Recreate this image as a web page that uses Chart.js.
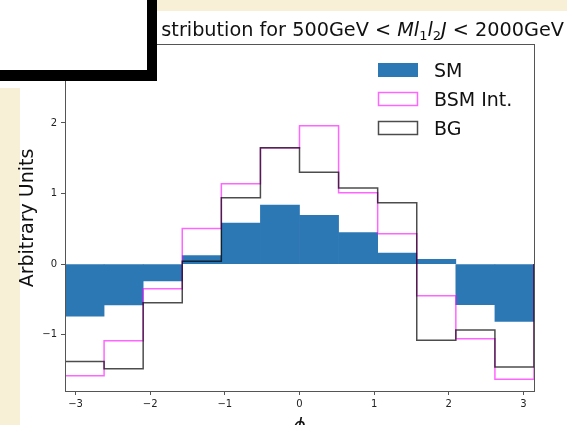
<!DOCTYPE html>
<html>
<head>
<meta charset="utf-8">
<title>phi distribution</title>
<script src="https://cdn.jsdelivr.net/npm/chart.js@4.4.1/dist/chart.umd.min.js"></script>
<style>
  html, body { margin: 0; padding: 0; }
  body { width: 567px; height: 425px; position: relative; overflow: hidden; background: #fff; }
  .strip-top { position: absolute; left: 0; top: 0; width: 567px; height: 11px; background: #f8f0d6; }
  .strip-left { position: absolute; left: 0; top: 88px; width: 20px; height: 337px; background: #f8f0d6; }
  #chart { position: absolute; left: 0; top: 0; }
  .box { position: absolute; left: 0; top: 0; width: 147px; height: 70px; background: #fff;
         border-right: 10px solid #000; border-bottom: 11px solid #000; z-index: 2; }
</style>
</head>
<body>
<div class="strip-top"></div>
<div class="strip-left"></div>
<canvas id="chart" width="567" height="425"></canvas>
<div class="box"></div>
<script>
// phi bins: 12 equal bins from -pi to pi
const binEdges = [-3.1416, -2.618, -2.0944, -1.5708, -1.0472, -0.5236, 0, 0.5236, 1.0472, 1.5708, 2.0944, 2.618, 3.1416];

// histogram contents per bin
const smValues  = [-0.74, -0.58, -0.24, 0.12, 0.58, 0.835, 0.69, 0.445, 0.155, 0.066, -0.575, -0.815];
const bsmValues = [-1.584, -1.086, -0.351, 0.505, 1.14, 1.645, 1.96, 1.01, 0.43, -0.45, -1.06, -1.635];
const bgValues  = [-1.38, -1.485, -0.55, 0.04, 0.94, 1.65, 1.30, 1.077, 0.87, -1.08, -0.935, -1.46];

const xTickValues = [-3, -2, -1, 0, 1, 2, 3];
const yTickValues = [-1, 0, 1, 2];

const legendItems = [
  { label: 'SM', fill: '#2b78b4', stroke: null },
  { label: 'BSM Int.', fill: null, stroke: 'rgba(255, 0, 255, 0.6)' },
  { label: 'BG', fill: null, stroke: 'rgba(0, 0, 0, 0.7)' }
];

const FONT = 'DejaVu Sans';

// bar centres for the filled histogram
function barPoints(values) {
  return values.map((v, i) => ({ x: (binEdges[i] + binEdges[i + 1]) / 2, y: v }));
}

// outline of a step histogram, closed down to zero at both ends
function stepPoints(values) {
  const pts = [{ x: binEdges[0], y: 0 }];
  values.forEach((v, i) => pts.push({ x: binEdges[i], y: v }));
  const last = values[values.length - 1];
  pts.push({ x: binEdges[binEdges.length - 1], y: last });
  pts.push({ x: binEdges[binEdges.length - 1], y: 0 });
  return pts;
}

function minusSign(v) {
  return v < 0 ? '\u2212' + Math.abs(v) : String(v);
}

// title, legend, axis labels and the axes frame
const figureText = {
  id: 'figureText',
  afterDatasetsDraw(chart) {
    const ctx = chart.ctx;
    const a = chart.chartArea;
    ctx.save();
    ctx.strokeStyle = '#555';
    ctx.lineWidth = 1;
    ctx.strokeRect(Math.round(a.left) + 0.5, Math.round(a.top) + 0.5,
      Math.round(a.right - a.left), Math.round(a.bottom - a.top));
    ctx.restore();
  },
  afterDraw(chart) {
    const ctx = chart.ctx;
    ctx.save();
    ctx.fillStyle = '#111';

    // title, right end fixed
    const size = 19.25;
    const parts = [
      { t: 'stribution for 500GeV < ', f: `${size}px "${FONT}"`, dy: 0 },
      { t: 'Ml', f: `italic ${size}px "${FONT}"`, dy: 0 },
      { t: '1', f: `${Math.round(size * 0.7)}px "${FONT}"`, dy: size * 0.22 },
      { t: 'l', f: `italic ${size}px "${FONT}"`, dy: 0 },
      { t: '2', f: `${Math.round(size * 0.7)}px "${FONT}"`, dy: size * 0.22 },
      { t: 'J', f: `italic ${size}px "${FONT}"`, dy: 0 },
      { t: ' < 2000GeV', f: `${size}px "${FONT}"`, dy: 0 }
    ];
    let total = 0;
    parts.forEach(p => { ctx.font = p.f; p.w = ctx.measureText(p.t).width; total += p.w; });
    let x = 564 - total;
    const base = 36;
    ctx.textBaseline = 'alphabetic';
    ctx.textAlign = 'left';
    parts.forEach(p => { ctx.font = p.f; ctx.fillText(p.t, x, base + p.dy); x += p.w; });

    // legend
    ctx.font = `19px "${FONT}"`;
    legendItems.forEach((item, i) => {
      const cy = 70 + i * 29;
      if (item.fill) {
        ctx.fillStyle = item.fill;
        ctx.fillRect(378, cy - 7, 40, 14);
      } else {
        ctx.strokeStyle = item.stroke;
        ctx.lineWidth = 1.5;
        ctx.strokeRect(378.5, cy - 6.5, 39, 13);
      }
      ctx.fillStyle = '#111';
      ctx.fillText(item.label, 434, cy + 7);
    });

    // y label
    ctx.save();
    ctx.translate(28, 218);
    ctx.rotate(-Math.PI / 2);
    ctx.textAlign = 'center';
    ctx.textBaseline = 'middle';
    ctx.fillText('Arbitrary Units', 0, 0);
    ctx.restore();

    // x label
    ctx.font = `italic 19px "${FONT}"`;
    ctx.textAlign = 'center';
    ctx.fillText('\u03d5', 299.5, 432);
    ctx.restore();
  }
};

Chart.defaults.font.family = FONT;

new Chart(document.getElementById('chart').getContext('2d'), {
  type: 'bar',
  data: {
    datasets: [
      {
        type: 'line',
        label: 'BG',
        data: stepPoints(bgValues),
        stepped: 'before',
        borderColor: 'rgba(0, 0, 0, 0.7)',
        borderWidth: 1.5,
        pointRadius: 0,
        fill: false,
        order: 0
      },
      {
        type: 'line',
        label: 'BSM Int.',
        data: stepPoints(bsmValues),
        stepped: 'before',
        borderColor: 'rgba(255, 0, 255, 0.6)',
        borderWidth: 1.5,
        pointRadius: 0,
        fill: false,
        order: 1
      },
      {
        type: 'bar',
        label: 'SM',
        data: barPoints(smValues),
        backgroundColor: '#2b78b4',
        borderWidth: 0,
        barPercentage: 1,
        categoryPercentage: 1,
        order: 2
      }
    ]
  },
  options: {
    responsive: false,
    animation: false,
    devicePixelRatio: 1,
    layout: { padding: { left: 0, top: 44, right: 33, bottom: 0 } },
    plugins: {
      legend: { display: false },
      tooltip: { enabled: false },
      title: { display: false }
    },
    scales: {
      x: {
        type: 'linear',
        offset: false,
        min: -3.1416,
        max: 3.1416,
        afterBuildTicks: s => { s.ticks = xTickValues.map(v => ({ value: v })); },
        afterFit: s => { s.height = 34; },
        border: { display: false },
        grid: { drawOnChartArea: false, drawTicks: true, tickLength: 4, color: '#555', offset: false },
        ticks: {
          color: '#222',
          font: { size: 10 },
          padding: 3,
          maxRotation: 0,
          callback: v => minusSign(v)
        }
      },
      y: {
        min: -1.80,
        max: 3.12,
        afterBuildTicks: s => { s.ticks = yTickValues.map(v => ({ value: v })); },
        afterFit: s => { s.width = 65; },
        border: { display: false },
        grid: { drawOnChartArea: false, drawTicks: true, tickLength: 4, color: '#555' },
        ticks: {
          color: '#222',
          font: { size: 10 },
          padding: 4,
          callback: v => minusSign(v)
        }
      }
    }
  },
  plugins: [figureText]
});
</script>
</body>
</html>
